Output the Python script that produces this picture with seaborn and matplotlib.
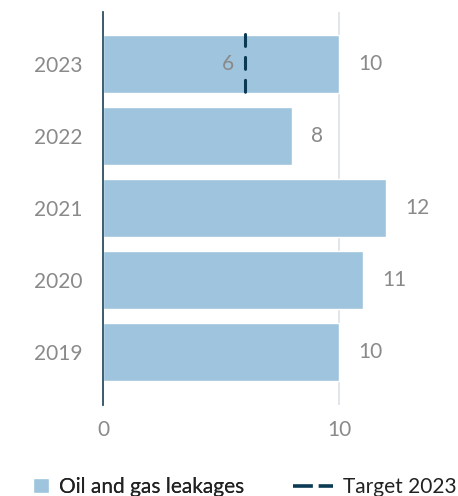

# plot.py
# Horizontal bar chart: oil and gas leakages per year with a 2023 target line
# Saves figure to: out.png

import matplotlib
matplotlib.use("Agg")
import matplotlib.pyplot as plt
from matplotlib.patches import Patch
from matplotlib.lines import Line2D
import pandas as pd
import seaborn as sns

# ---------------------------
# 1. Data
# ---------------------------
years = ["2023", "2022", "2021", "2020", "2019"]
leakages = [10, 8, 12, 11, 10]
target_year = "2023"
target_value = 6
x_ticks = [0, 10]

bar_label_name = "Oil and gas leakages"
target_label_name = "Target 2023"

# colours
BAR_COLOR = "#9fc4dd"
TARGET_COLOR = "#0b3a55"
TEXT_GRAY = "#8a8a8a"
GRID_COLOR = "#dde2e6"
SPINE_COLOR = "#2e4f63"

df = pd.DataFrame({"Year": years, "Leakages": leakages})

# ---------------------------
# 2. Style
# ---------------------------
sns.set_style("white")
plt.rcParams["font.family"] = ["Lato", "DejaVu Sans"]

fig = plt.figure(figsize=(4.58, 4.96), dpi=100)
ax = fig.add_axes([0.2249, 0.1835, 0.773, 0.7923])

# ---------------------------
# 3. Bars
# ---------------------------
sns.barplot(data=df, x="Leakages", y="Year", order=years, orient="h",
            color=BAR_COLOR, width=0.8, saturation=1, ax=ax, zorder=2)

# value labels right of the bars
for cont in ax.containers:
    ax.bar_label(cont, labels=[str(v) for v in leakages], padding=14,
                 fontsize=15, color=TEXT_GRAY)

# ---------------------------
# 4. Target line inside the 2023 bar
# ---------------------------
t_pos = years.index(target_year)
ax.plot([target_value, target_value], [t_pos - 0.42, t_pos + 0.42],
        color=TARGET_COLOR, lw=2.2, dashes=(3.9, 3.6),
        solid_capstyle="round", dash_capstyle="round", zorder=4)
ax.annotate(str(target_value), xy=(target_value, t_pos), xytext=(-8, 0),
            textcoords="offset points", ha="right", va="center",
            fontsize=15, color=TEXT_GRAY)

# ---------------------------
# 5. Axes
# ---------------------------
ax.set_xlim(0, 15)
ax.set_ylim(4.74, -0.72)
ax.set_xticks(x_ticks)
ax.set_xticklabels([str(t) for t in x_ticks])
ax.set_xlabel("")
ax.set_ylabel("")
ax.tick_params(axis="both", length=0, labelsize=15, labelcolor=TEXT_GRAY)
ax.tick_params(axis="y", pad=15)
ax.tick_params(axis="x", pad=11)

# only the 10 gridline is visible (0 is covered by the spine)
ax.xaxis.grid(True, color=GRID_COLOR, lw=1.2, zorder=0)
ax.set_axisbelow(True)

for side in ["top", "right", "bottom"]:
    ax.spines[side].set_visible(False)
ax.spines["left"].set_color(SPINE_COLOR)
ax.spines["left"].set_linewidth(1.3)
ax.spines["left"].set_zorder(5)

# ---------------------------
# 6. Legend (two parts so the handles can have different sizes)
# ---------------------------
leg1 = fig.legend(handles=[Patch(facecolor=BAR_COLOR, label=bar_label_name)],
                  loc="center left", bbox_to_anchor=(0.073, 0.018),
                  frameon=False, fontsize=15, handlelength=0.75, handleheight=0.75,
                  handletextpad=0.5, borderpad=0, borderaxespad=0,
                  labelcolor="#222222")
leg2 = fig.legend(handles=[Line2D([0], [0], color=TARGET_COLOR, lw=2.6,
                                  dashes=(5.5, 1.6), label=target_label_name)],
                  loc="center left", bbox_to_anchor=(0.64, 0.018),
                  frameon=False, fontsize=15, handlelength=1.9,
                  handletextpad=0.5, borderpad=0, borderaxespad=0,
                  labelcolor="#222222")
fig.add_artist(leg1)

fig.savefig("out.png", dpi=100)
plt.close(fig)
